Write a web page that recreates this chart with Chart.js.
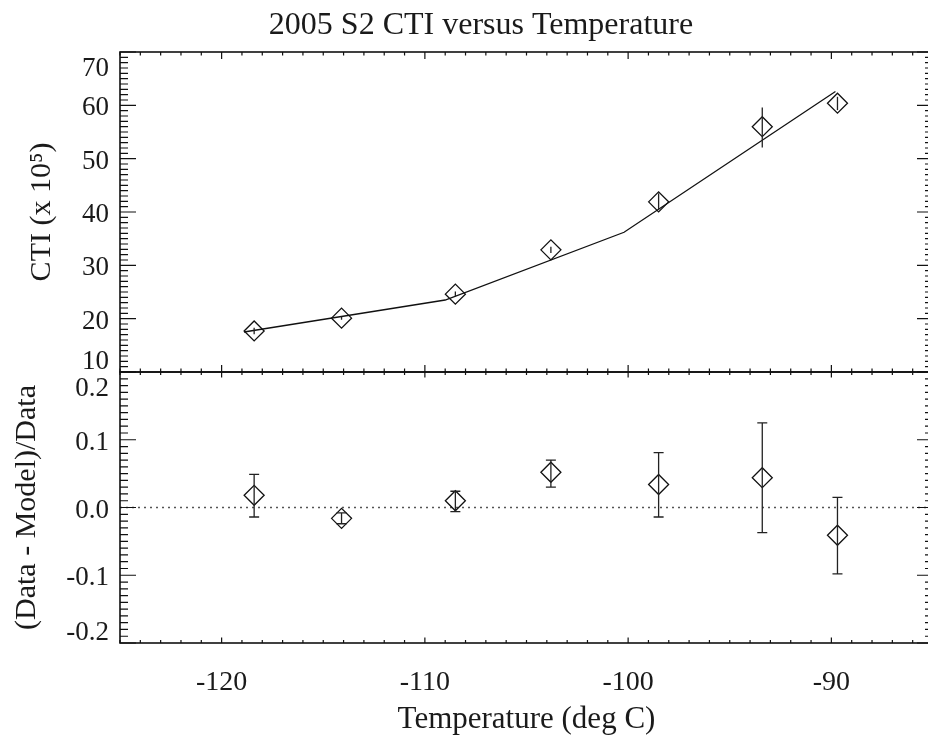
<!DOCTYPE html>
<html>
<head>
<meta charset="utf-8">
<script src="https://cdn.jsdelivr.net/npm/chart.js@4/dist/chart.umd.min.js"></script>
<style>
  html, body { margin: 0; padding: 0; overflow: hidden; background: #fff; width: 928px; height: 740px; }
  #wrap { position: relative; left: 0; top: 0; width: 928px; height: 740px; overflow: hidden; background: #fff; }
  #c { position: absolute; left: 0; top: 0; }
</style>
</head>
<body>
<div id="wrap"><canvas id="c" width="962" height="740"></canvas></div>
<script>
// ---- data ----
const temps    = [-118.4, -114.1, -108.5, -103.8, -98.5, -93.4, -89.7];
const cti      = [17.7, 20.1, 24.6, 32.9, 41.9, 56.0, 60.4];
const ctiLow   = [17.1, 19.8, 24.1, 32.3, 40.4, 52.1, 59.1];
const ctiHigh  = [18.3, 20.4, 25.1, 33.5, 43.5, 59.6, 61.6];
const modelTemps = [-118.9, -109.0, -100.2, -89.8];
const modelCti   = [17.5, 23.5, 36.2, 62.6];
const resid    = [0.018, -0.016, 0.010, 0.052, 0.034, 0.044, -0.041];
const residLow = [-0.014, -0.024, -0.006, 0.030, -0.014, -0.037, -0.098];
const residHigh= [0.049, -0.008, 0.024, 0.070, 0.081, 0.125, 0.015];
const zeroLine = [-125, -85];
const xTickValues = [-120, -110, -100, -90];
const xTickStep = 10;
const titleText = '2005 S2 CTI versus Temperature';
const xTitle = 'Temperature (deg C)';
const yTopTitle = 'CTI (x 10\u2075)';
const yBotTitle = '(Data - Model)/Data';

const FONT = "'Liberation Serif', 'Times New Roman', serif";
Chart.defaults.font.family = FONT;
Chart.defaults.color = '#1a1a1a';

const errorBars = {
  id: 'errorBars',
  afterDatasetsDraw(chart) {
    const ctx = chart.ctx, x = chart.scales.x, yc = chart.scales.yCti, yr = chart.scales.yRes;
    ctx.save();
    ctx.strokeStyle = '#222';
    ctx.lineWidth = 1.3;
    temps.forEach((t, i) => {
      const px = x.getPixelForValue(t);
      ctx.beginPath();
      ctx.moveTo(px, yc.getPixelForValue(ctiLow[i]));
      ctx.lineTo(px, yc.getPixelForValue(ctiHigh[i]));
      ctx.stroke();
      const lo = yr.getPixelForValue(residLow[i]), hi = yr.getPixelForValue(residHigh[i]);
      ctx.beginPath();
      ctx.moveTo(px, lo); ctx.lineTo(px, hi);
      ctx.moveTo(px - 5, lo); ctx.lineTo(px + 5, lo);
      ctx.moveTo(px - 5, hi); ctx.lineTo(px + 5, hi);
      ctx.stroke();
    });
    ctx.restore();
  }
};

const frame = {
  id: 'frame',
  afterDraw(chart) {
    const ctx = chart.ctx, x = chart.scales.x, area = chart.chartArea;
    const panels = [
      { s: chart.scales.yCti, minor: 1, major: 10, xl: [7, 3.5] },
      { s: chart.scales.yRes, minor: 0.01, major: 0.1, xl: [5.5, 3] }
    ];
    ctx.save();
    ctx.strokeStyle = '#111';
    ctx.lineWidth = 1.2;
    panels.forEach(p => {
      const top = p.s.top, bot = p.s.bottom, L = area.left, R = area.right;
      for (let v = Math.ceil(x.min); v <= x.max; v++) {
        const px = x.getPixelForValue(v);
        const len = (v % xTickStep === 0) ? p.xl[0] : p.xl[1];
        ctx.beginPath();
        ctx.moveTo(px, top); ctx.lineTo(px, top + len);
        ctx.moveTo(px, bot); ctx.lineTo(px, bot - len);
        ctx.stroke();
      }
      const n = Math.round((p.s.max - p.s.min) / p.minor);
      for (let i = 0; i <= n; i++) {
        const v = p.s.min + i * p.minor;
        const r = v / p.major;
        const isMajor = Math.abs(r - Math.round(r)) < 1e-6;
        const len = isMajor ? 16 : 8;
        const py = p.s.getPixelForValue(v);
        ctx.beginPath();
        ctx.moveTo(L, py); ctx.lineTo(L + len, py);
        ctx.moveTo(R, py); ctx.lineTo(R - len, py);
        ctx.stroke();
      }
      ctx.lineWidth = 1.6;
      ctx.strokeRect(L, top, R - L, bot - top);
      ctx.lineWidth = 1.2;
    });
    ctx.restore();
  }
};

const pts = (xs, ys) => xs.map((v, i) => ({ x: v, y: ys[i] }));

new Chart(document.getElementById('c'), {
  type: 'scatter',
  data: {
    datasets: [
      { label: 'CTI', data: pts(temps, cti), yAxisID: 'yCti', pointStyle: 'rectRot', pointRadius: 10,
        borderColor: '#111', backgroundColor: 'rgba(0,0,0,0)', borderWidth: 1.3, showLine: false },
      { label: 'Model', data: pts(modelTemps, modelCti), yAxisID: 'yCti', showLine: true, pointRadius: 0,
        borderColor: '#111', borderWidth: 1.3, tension: 0 },
      { label: 'Residual', data: pts(temps, resid), yAxisID: 'yRes', pointStyle: 'rectRot', pointRadius: 10,
        borderColor: '#111', backgroundColor: 'rgba(0,0,0,0)', borderWidth: 1.3, showLine: false },
      { label: 'Zero', data: pts(zeroLine, [0, 0]), yAxisID: 'yRes', showLine: true, pointRadius: 0,
        borderColor: '#555', borderWidth: 1.5, borderDash: [2, 4] }
    ]
  },
  options: {
    responsive: false,
    animation: false,
    devicePixelRatio: 1,
    layout: { padding: 0 },
    plugins: {
      legend: { display: false },
      tooltip: { enabled: false },
      title: { display: true, text: titleText, color: '#1a1a1a',
        font: { family: FONT, size: 32, weight: 'normal', lineHeight: 1.1 },
        padding: { top: 8, bottom: 8.8 } }
    },
    scales: {
      x: {
        type: 'linear', position: 'bottom', min: -125, max: -85,
        grid: { display: false, drawTicks: false }, border: { display: false },
        afterBuildTicks(s) { s.ticks = xTickValues.map(v => ({ value: v })); },
        ticks: { padding: 23, maxRotation: 0, autoSkip: false,
          font: { family: FONT, size: 28 }, color: '#1a1a1a' },
        title: { display: true, text: xTitle, font: { family: FONT, size: 31 }, color: '#1a1a1a',
          padding: { top: 0, bottom: 2 } },
        afterFit(s) { s.height = 97; }
      },
      yRes: {
        type: 'linear', position: 'left', stack: 'panels', stackWeight: 271, min: -0.2, max: 0.2,
        grid: { display: false, drawTicks: false }, border: { display: false },
        ticks: { stepSize: 0.1, padding: 11, autoSkip: false, labelOffset: 3,
          font: { family: FONT, size: 27, lineHeight: 1.0 }, color: '#1a1a1a',
          callback(v) {
            const s = Number(v).toFixed(1);
            if (Math.abs(v - 0.2) < 1e-6) return ['', s];
            if (Math.abs(v + 0.2) < 1e-6) return [s, ''];
            return s;
          } },
        title: { display: true, text: yBotTitle, font: { family: FONT, size: 30 }, color: '#1a1a1a',
          padding: { top: 9, bottom: 0 } },
        afterFit(s) { s.width = 120; }
      },
      yCti: {
        type: 'linear', position: 'left', stack: 'panels', stackWeight: 320, min: 10, max: 70,
        grid: { display: false, drawTicks: false }, border: { display: false },
        ticks: { stepSize: 10, padding: 11, autoSkip: false, labelOffset: 3,
          font: { family: FONT, size: 27, lineHeight: 1.0 }, color: '#1a1a1a',
          callback(v) {
            const s = String(v);
            if (v === 10) return [s, ''];
            if (v === 70) return ['', s];
            return s;
          } },
        title: { display: true, text: yTopTitle, font: { family: FONT, size: 30 }, color: '#1a1a1a',
          padding: { top: 24, bottom: 0 } },
        afterFit(s) { s.width = 120; }
      },
      pad: {
        type: 'linear', position: 'right', display: true,
        grid: { display: false, drawTicks: false }, border: { display: false },
        ticks: { display: false },
        afterFit(s) { s.width = 29; }
      }
    }
  },
  plugins: [errorBars, frame]
});
</script>
</body>
</html>
